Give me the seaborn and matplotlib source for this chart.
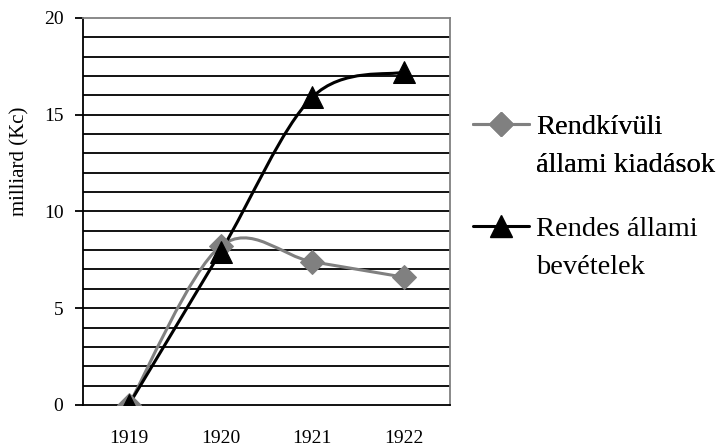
import numpy as np
import matplotlib
matplotlib.use('Agg')
import matplotlib.pyplot as plt
from matplotlib.path import Path
from matplotlib.patches import PathPatch
from matplotlib.lines import Line2D
import seaborn as sns

# Adatok
years = ['1919', '1920', '1921', '1922']
rendkivuli_kiadasok = [0.0, 8.2, 7.4, 6.6]
rendes_bevetelek = [0.0, 7.9, 15.9, 17.2]
label_kiadasok = ['Rendkívüli', 'állami kiadások']
label_bevetelek = ['Rendes állami', 'bevételek']

sns.set_style('white')
plt.rcParams['font.family'] = ['Liberation Serif', 'DejaVu Serif']
plt.rcParams['text.color'] = 'black'
plt.rcParams['axes.labelcolor'] = 'black'
plt.rcParams['xtick.color'] = 'black'
plt.rcParams['ytick.color'] = 'black'

fig = plt.figure(figsize=(7.2, 4.46), dpi=100)
ax = fig.add_axes([0.115, 0.092, 0.51, 0.868])


def smooth_path(ys):
    # Excel-szeru simitott gorbe: Bezier kontrollpontok a szomszedos pontokbol
    xs = np.arange(len(ys), dtype=float)
    pts = np.column_stack([xs, ys])
    verts = [pts[0]]
    codes = [Path.MOVETO]
    n = len(pts)
    for i in range(n - 1):
        p_prev = pts[max(i - 1, 0)]
        p0 = pts[i]
        p1 = pts[i + 1]
        p_next = pts[min(i + 2, n - 1)]
        c1 = p0 + (p1 - p_prev) / 6
        c2 = p1 - (p_next - p0) / 6
        verts += [c1, c2, p1]
        codes += [Path.CURVE4] * 3
    return Path(verts, codes)


gray = '#808080'
ax.add_patch(PathPatch(smooth_path(rendkivuli_kiadasok), fill=False,
                       edgecolor=gray, lw=2.2, zorder=3))
ax.add_patch(PathPatch(smooth_path(rendes_bevetelek), fill=False,
                       edgecolor='black', lw=2.2, zorder=4))

x_idx = np.arange(len(years))
sns.lineplot(x=x_idx, y=rendkivuli_kiadasok, ax=ax, linestyle='none',
             marker='D', markersize=12, color=gray, markeredgecolor=gray, zorder=5)
sns.lineplot(x=x_idx, y=rendes_bevetelek, ax=ax, linestyle='none',
             marker='^', markersize=16, color='black', markeredgecolor='black', zorder=6)

ax.set_xlim(-0.5, 3.5)
ax.set_ylim(0, 20)
ax.set_xticks(x_idx)
ax.set_xticklabels(years)
ax.set_xticks(np.arange(-0.5, 4, 1), minor=True)
ax.set_yticks([0, 5, 10, 15, 20])
ax.set_yticks(range(1, 20), minor=True)
ax.yaxis.remove_overlapping_locs = False
ax.yaxis.grid(True, which='minor', color='black', lw=1.3)
ax.set_axisbelow(True)

ax.tick_params(axis='x', which='major', length=0, labelsize=14, pad=18)
ax.tick_params(axis='x', which='minor', length=6, width=1.3, direction='out', color='black')
ax.tick_params(axis='y', which='major', length=6, width=1.3, direction='out',
               color='black', labelsize=14, pad=8, left=True)
ax.tick_params(axis='y', which='minor', length=0)

for side in ['left', 'bottom']:
    ax.spines[side].set_color('black')
    ax.spines[side].set_linewidth(1.3)
for side in ['top', 'right']:
    ax.spines[side].set_color(gray)
    ax.spines[side].set_linewidth(1.3)

ax.set_ylabel('milliard (Kc)', fontsize=15)
ax.yaxis.set_label_coords(-0.145, 0.63)

# Jelmagyarazat: a jel az elso sorhoz igazodik, a masodik sor jel nelkul
blank = Line2D([], [], linestyle='none')
leg_opts = dict(loc='upper left', frameon=False, fontsize=20.5,
                handlelength=1.95, handletextpad=0.25, labelspacing=0.42,
                borderaxespad=0, borderpad=0)
leg1 = fig.legend([Line2D([], [], color=gray, lw=2.2, marker='D', markersize=12), blank],
                  label_kiadasok, bbox_to_anchor=(0.657, 0.744), **leg_opts)
fig.add_artist(leg1)
fig.legend([Line2D([], [], color='black', lw=2.2, marker='^', markersize=16), blank],
           label_bevetelek, bbox_to_anchor=(0.657, 0.516), **leg_opts)

fig.savefig('out.png', dpi=100)
